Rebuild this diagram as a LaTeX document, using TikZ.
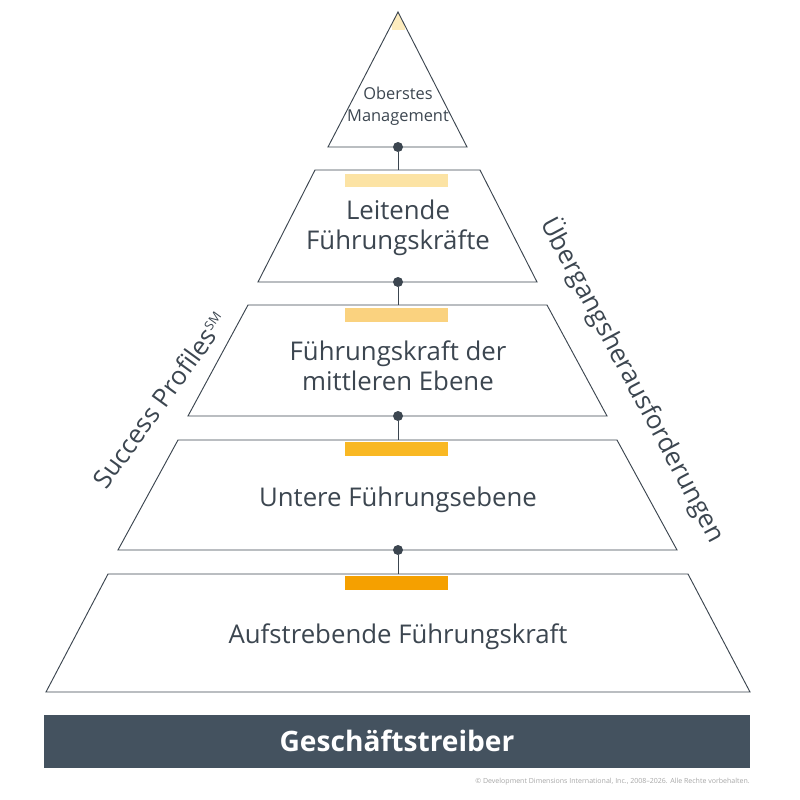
\documentclass[tikz,border=0pt]{standalone}
\usepackage{fontspec}
\setmainfont{Open Sans}
\usepackage{tikz}
\definecolor{Txt-1}{RGB}{60,70,80}
\definecolor{Bar-0}{RGB}{253,236,190}
\definecolor{Bar-1}{RGB}{252,227,164}
\definecolor{Bar-2}{RGB}{250,210,127}
\definecolor{Bar-3}{RGB}{249,184,35}
\definecolor{Bar-4}{RGB}{245,160,0}
\definecolor{Base-1}{RGB}{68,82,95}
\tikzset{
  level/.style={draw=Txt-1, line width=0.8pt, fill=white},
  lbl/.style={text=Txt-1, align=center, font=\fontsize{22}{26}\selectfont},
  joint/.style={circle, fill=Txt-1, inner sep=0pt, minimum size=0.3cm},
  stem/.style={draw=Txt-1, line width=0.8pt}
}
\begin{document}
\begin{tikzpicture}[x=0.03cm, y=-0.03cm]
  \useasboundingbox (0,0) rectangle (800,800);

  \begin{scope}
    \clip (398,12) -- (467,147) -- (328,147) -- cycle;
    \fill[Bar-0] (392,10) rectangle (405,30);
  \end{scope}
  \draw[level, fill=none] (398,12) -- (467,147) -- (328,147) -- cycle;

  \draw[level] (315,170) -- (480,170) -- (537,282) -- (258,282) -- cycle;
  \draw[level] (248,305) -- (547,305) -- (607,416) -- (188,416) -- cycle;
  \draw[level] (178,440) -- (617,440) -- (677,550) -- (118,550) -- cycle;
  \draw[level] (108,574) -- (688,574) -- (750,692) -- (46,692) -- cycle;

  \fill[Bar-1] (345,174) rectangle (448,187);
  \fill[Bar-2] (345,308) rectangle (448,322);
  \fill[Bar-3] (345,442) rectangle (448,456);
  \fill[Bar-4] (345,576) rectangle (448,590);

  \node[lbl, font=\fontsize{14}{19}\selectfont] (top) at (398,106) {Oberstes\\Management};
  \node[lbl] (senior) at (398,228) {Leitende\\Führungskräfte};
  \node[lbl] (mid) at (398,366) {Führungskraft der\\mittleren Ebene};
  \node[lbl] (low) at (398,500) {Untere Führungsebene};
  \node[lbl] (rise) at (398,637) {Aufstrebende Führungskraft};

  \node[joint] (j1) at (398,147) {};
  \node[joint] (j2) at (398,282) {};
  \node[joint] (j3) at (398,416) {};
  \node[joint] (j4) at (398,550) {};
  \coordinate (e1) at (398,170);
  \coordinate (e2) at (398,305);
  \coordinate (e3) at (398,440);
  \coordinate (e4) at (398,574);
  \foreach \i in {1,...,4} \draw[stem] (j\i) -- (e\i);

  \fill[Base-1] (44,715) rectangle (750,768);
  \node[text=white, font=\fontsize{24}{30}\selectfont\bfseries] (drv) at (397,741) {Geschäftstreiber};

  \node[lbl, rotate=54] (sp) at (160,400) {Success Profiles\textsuperscript{\fontsize{11}{12}\selectfont SM}};
  \node[lbl, rotate=-62] (ch) at (633,380) {Übergangsherausforderungen};

  \node[anchor=east, text=gray!70, font=\fontsize{6}{7}\selectfont, inner sep=0pt] (copy) at (750,782) {© Development Dimensions International, Inc., 2008–2026. Alle Rechte vorbehalten.};
\end{tikzpicture}
\end{document}
